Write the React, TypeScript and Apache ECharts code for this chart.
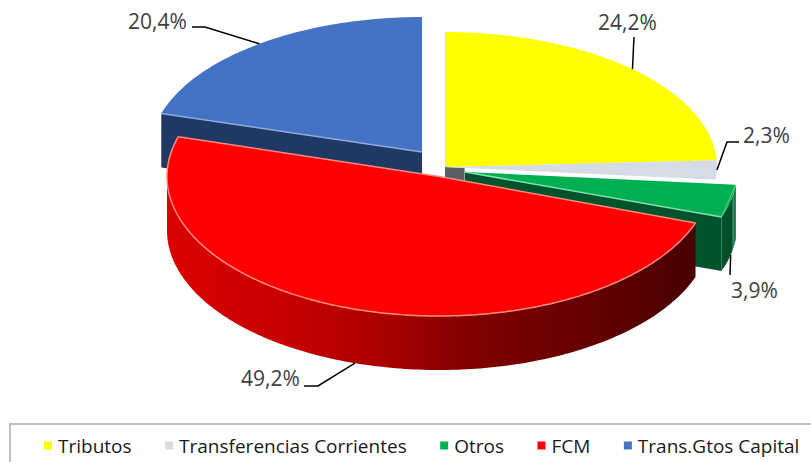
import React, { useEffect, useRef } from "react";
import * as echarts from "echarts";

const categories = ["Tributos", "Transferencias Corrientes", "Otros", "FCM", "Trans.Gtos Capital"];
const shares = [24.2, 2.3, 3.9, 49.2, 20.4];
const colors = ["#FFFF00", "#D6DCE5", "#00B050", "#FF0000", "#4472C4"];

const RX = 272;
const DEPTH = 54;
const FONT = "'Open Sans', sans-serif";
const W = 811;
const H = 462;

type Look = {
  cx: number; cy: number; ry: number;
  side?: any; cut?: any; bevel?: string;
  bevelCut?: boolean; bevelArc?: boolean;
  text: [number, number]; align: string;
  leader: [number, number][]; onBottom?: boolean;
};

const grad = (stops: [number, string][]) => ({
  type: "linear", x: 0, y: 0, x2: 1, y2: 0,
  colorStops: stops.map(([offset, color]) => ({ offset, color })),
});

const looks: Look[] = [
  { cx: 445, cy: 167, ry: 135, text: [598, 22], align: "left", leader: [[634, 37]] },
  {
    cx: 445, cy: 167, ry: 135,
    cut: grad([[0, "#5b5f68"], [0.07, "#5b5f68"], [0.075, "#ffffff"], [1, "#ffffff"]]),
    text: [743, 135], align: "left", leader: [[727, 142], [739, 142]],
  },
  {
    cx: 465, cy: 172, ry: 135,
    side: grad([[0, "#00552c"], [0.72, "#004d28"], [0.8, "#3f9a6c"], [1, "#00552c"]]),
    cut: "#00532b", bevel: "#7fe0ac", bevelCut: true, bevelArc: false,
    text: [731, 290], align: "left", leader: [[730, 275]], onBottom: true,
  },
  {
    cx: 439, cy: 176.5, ry: 139.5,
    side: grad([[0, "#dc0000"], [0.25, "#c40000"], [0.42, "#a80000"], [0.58, "#800000"], [0.8, "#650000"], [1, "#480000"]]),
    bevel: "#ff8a80", bevelCut: true, bevelArc: true,
    text: [241, 378], align: "left", leader: [[318, 386], [304, 386]], onBottom: true,
  },
  {
    cx: 422, cy: 152, ry: 135,
    cut: "#1f3864", bevel: "#8faadc", bevelCut: true, bevelArc: false,
    text: [128, 21], align: "left", leader: [[205, 27], [192, 27]],
  },
];

const total = shares.reduce((a, b) => a + b, 0);
const startAngles = shares.map((_, i) => (shares.slice(0, i).reduce((a, b) => a + b, 0) / total) * 360);
const endAngles = startAngles.map((s, i) => s + (shares[i] / total) * 360);

const pt = (l: Look, deg: number, dy = 0): [number, number] => {
  const r = (deg * Math.PI) / 180;
  return [l.cx + RX * Math.sin(r), l.cy - l.ry * Math.cos(r) + dy];
};
const arc = (l: Look, a: number, b: number, dy = 0) => {
  const out: [number, number][] = [];
  const n = Math.max(2, Math.ceil(Math.abs(b - a)));
  for (let i = 0; i <= n; i++) out.push(pt(l, a + ((b - a) * i) / n, dy));
  return out;
};

const drawSlice = (i: number) => () => {
  const l = looks[i];
  const a = startAngles[i];
  const b = endAngles[i];
  const children: any[] = [];
  const centre: [number, number] = [l.cx, l.cy];
  if (l.cut) {
    // the blue slice shows its start edge to the viewer, the others their end edge
    const edge = i === 4 ? a : b;
    children.push({
      type: "polygon",
      shape: { points: [centre, pt(l, edge), pt(l, edge, DEPTH), [l.cx, l.cy + DEPTH]] },
      style: { fill: l.cut },
    });
  }
  if (l.side) {
    const from = Math.max(a, 90);
    const to = Math.min(b, 270);
    const top = arc(l, from, to);
    const bottom = arc(l, to, from, DEPTH);
    children.push({ type: "polygon", shape: { points: [...top, ...bottom] }, style: { fill: l.side } });
  }
  children.push({
    type: "polygon",
    shape: { points: [centre, ...arc(l, a, b)] },
    style: { fill: colors[i] },
  });
  if (l.bevel && l.bevelCut) {
    const edge = i === 2 ? [centre, pt(l, b)] : i === 4 ? [centre, pt(l, a)] : [pt(l, a), centre, pt(l, b)];
    children.push({
      type: "polyline",
      shape: { points: edge },
      style: { stroke: l.bevel, lineWidth: 1.5, fill: "none" },
    });
  }
  if (l.bevel && l.bevelArc) {
    children.push({
      type: "polyline",
      shape: { points: arc(l, a, b) },
      style: { stroke: l.bevel, lineWidth: 1.5, fill: "none" },
    });
  }
  if (i === 2) {
    children.push({
      type: "polyline",
      shape: { points: [pt(l, b), pt(l, a)] },
      style: { stroke: l.bevel, lineWidth: 1, fill: "none", opacity: 0.7 },
    });
  }
  const mid = (a + b) / 2;
  const anchor = pt(l, mid, l.onBottom ? DEPTH : 0);
  children.push({
    type: "polyline",
    shape: { points: [anchor, ...l.leader] },
    style: { stroke: "#000000", lineWidth: 1.5, fill: "none" },
  });
  children.push({
    type: "text",
    style: {
      text: shares[i].toFixed(1).replace(".", ",") + "%",
      x: l.text[0], y: l.text[1],
      fill: "#404040", fontSize: 21, fontFamily: FONT,
      align: l.align, textAlign: l.align, verticalAlign: "middle",
    },
  });
  return { type: "group", children };
};

// painted back to front
const paintOrder = [4, 0, 1, 2, 3];

export default function App() {
  const ref = useRef<HTMLDivElement>(null);
  useEffect(() => {
    const chart = echarts.init(ref.current!, null, { renderer: "svg" });
    chart.setOption({
      animation: false,
      backgroundColor: "#ffffff",
      legend: {
        left: 44, top: 436, padding: 0,
        itemWidth: 8, itemHeight: 8, itemGap: 33.5, icon: "rect",
        selectedMode: false,
        data: categories.map((name, i) => ({ name, itemStyle: { color: colors[i] } })),
        textStyle: { fontFamily: FONT, fontSize: 19, color: "#1a1a1a", padding: [0, 0, 0, 1] },
      },
      graphic: [
        {
          type: "polyline",
          shape: { points: [[10, H], [10, 424], [W, 424]] },
          style: { stroke: "#bfbfbf", lineWidth: 2, fill: "none" },
        },
      ],
      series: paintOrder.map((i) => ({
        type: "custom",
        name: categories[i],
        coordinateSystem: "none",
        itemStyle: { color: colors[i] },
        data: [[shares[i]]],
        renderItem: drawSlice(i),
        silent: true,
      })),
    });
    return () => chart.dispose();
  }, []);
  return <div ref={ref} style={{ position: "fixed", left: 0, top: 0, width: W, height: H }} />;
}
